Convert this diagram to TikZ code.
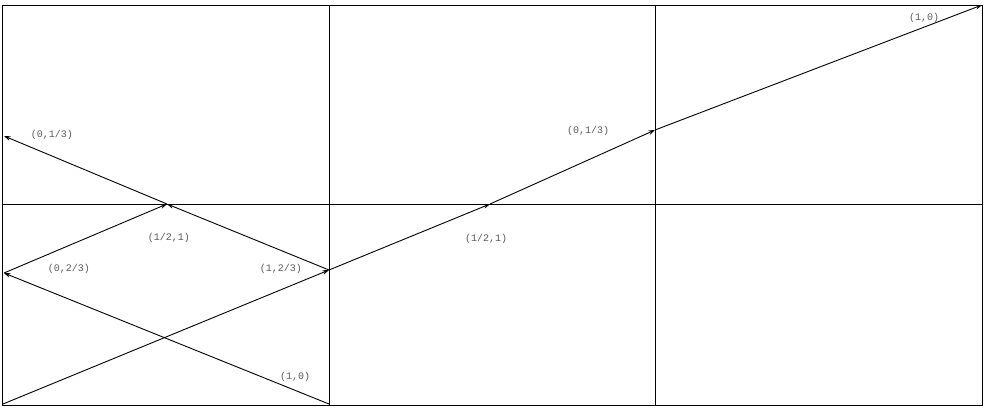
\documentclass[tikz,border=0pt]{standalone}
\usepackage{fontspec}
\setmonofont{Liberation Mono}
\usetikzlibrary{arrows.meta}
\begin{document}
\begin{tikzpicture}[x=1bp,y=-1bp,
  gridline/.style={line width=0.9bp,black},
  seg/.style={line width=0.9bp,black,-{Stealth[length=6.5bp,width=4.5bp]}},
  lbl/.style={font=\ttfamily\fontsize{10bp}{12bp}\selectfont,text=black!65,inner sep=0pt}]
\useasboundingbox (0,0) rectangle (989,410);
% grid
\draw[gridline] (2,5) rectangle (982,405);
\draw[gridline] (329,5) -- (329,405);
\draw[gridline] (655,5) -- (655,405);
\draw[gridline] (2,204) -- (982,204);
% points
\coordinate (O) at (3,404);
\coordinate (A) at (329,270);
\coordinate (B) at (167,204);
\coordinate (C) at (4,136);
\coordinate (D) at (329,404);
\coordinate (E) at (4,273);
\coordinate (F) at (490,204);
\coordinate (G) at (655,130);
\coordinate (H) at (982,5);
% left cell
\draw[seg] (O) -- (A);
\draw[seg] (D) -- (E);
\draw[seg] (E) -- (B);
\draw[seg] (A) -- (B);
\draw[seg] (B) -- (C);
% middle and right
\draw[seg] (A) -- (F);
\draw[seg] (F) -- (G);
\draw[seg] (G) -- (H);
% labels
\node[lbl] (l1) at (52,135) {(0,1/3)};
\node[lbl] (l2) at (169,238) {(1/2,1)};
\node[lbl] (l3) at (69,269) {(0,2/3)};
\node[lbl] (l4) at (281,269) {(1,2/3)};
\node[lbl] (l5) at (295,377) {(1,0)};
\node[lbl] (l6) at (486,239) {(1/2,1)};
\node[lbl] (l7) at (588,131) {(0,1/3)};
\node[lbl] (l8) at (924,18) {(1,0)};
\end{tikzpicture}
\end{document}
